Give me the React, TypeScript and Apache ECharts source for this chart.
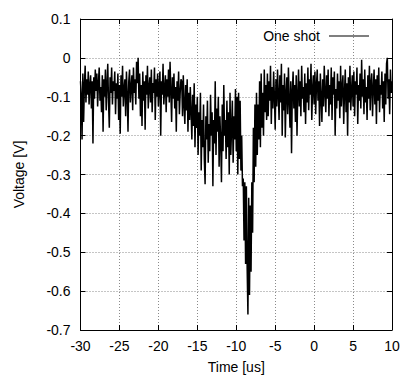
import React, { useEffect, useRef } from "react";
import * as echarts from "echarts";

// Oscilloscope trace, sampled every 0.1 us starting at -30 us. Values in millivolts.
const sampleStart = -30;
const sampleStep = 0.1;

// -30.0 .. -17.1 us : baseline noise
const baselineBefore = [
  -60, -100, -210, -40, -165, -70, -20, -115, -55, -95,
  -35, -120, -70, -45, -130, -60, -220, -50, -105, -30,
  -85, -40, -125, -65, -25, -110, -75, -140, -45, -190,
  -55, -100, -30, -135, -70, -15, -115, -180, -50, -90,
  -25, -120, -60, -85, -35, -145, -65, -105, -40, -160,
  -70, -195, -45, -100, -20, -125, -80, -55, -150, -35,
  -95, -190, -60, -30, -115, -75, -45, -135, -25, -90,
  -55, -120, -10, -65, 0, -105, -40, -150, -70, -175,
  -35, -110, -60, -185, -45, -95, -20, -130, -75, -50,
  -115, -30, -140, -65, -90, -25, -160, -55, -100, -40,
  -125, -70, -35, -200, -60, -95, -15, -120, -80, -45,
  -140, -55, -100, -30, -115, -10, -85, -165, -50, -105,
  -40, -130, -75, -190, -60, -110, -35, -145, -90, -55,
];

// -17.0 .. -9.6 us : pre-pulse dip
const dipValues = [
  -60, -150, -45, -120, -170, -70, -135, -55, -190, -90,
  -160, -75, -140, -210, -95, -175, -65, -230, -120, -180,
  -100, -250, -140, -200, -90, -290, -160, -230, -120, -260,
  -325, -150, -210, -110, -270, -170, -240, -95, -200, -140,
  -330, -160, -220, -60, -250, -130, -190, -100, -280, -150,
  -210, -320, -120, -240, -70, -200, -160, -260, -110, -230,
  -140, -300, -90, -250, -180, -110, -270, -150, -210, -80,
  -240, -100, -300, -90, -260,
];

// -9.5 .. -7.6 us : main pulse
const spikeValues = [
  -110, -290, -200, -330, -310, -470, -320, -530, -330, -540,
  -660, -360, -610, -380, -550, -320, -450, -180, -320, -120,
];

// -7.5 .. -6.1 us : recovery
const recoveryValues = [
  -280, -90, -250, -120, -210, -60, -230, -40, -180, -90,
  -200, -30, -140, -70, -160,
];

// -6.0 .. 10.0 us : baseline noise
const baselineAfter = [
  -40, -150, -60, -110, -20, -170, -75, -130, -35, -100,
  -185, -55, -125, -30, -95, -160, -45, -115, -15, -200,
  -70, -135, -40, -205, -90, -50, -145, -25, -110, -180,
  -60, -245, -85, -35, -130, -70, -165, -45, -200, -95,
  -30, -125, -60, -150, -20, -105, -75, -140, -40, -170,
  -65, -115, -25, -135, -55, -95, -15, -160, -80, -45,
  -120, -35, -145, -70, -30, -110, -60, -175, -40, -100,
  -165, -55, -125, -20, -90, -140, -45, -105, -30, -150,
  -70, -120, -25, -160, -50, -95, -35, -200, -80, -130,
  -40, -110, -60, -155, -20, -125, -75, -45, -170, -90,
  -30, -140, -65, -200, -50, -115, -20, -135, -85, -45,
  -125, -35, -150, -60, -95, -25, -170, -70, -110, -40,
  -130, -5, -100, -55, -145, -30, -115, -75, -160, -45,
  -105, -20, -135, -65, -40, -150, -80, -30, -120, -55,
  -170, -45, -110, -25, -140, -70, -95, -35, -130, -60,
  -165, -40, -120, -15, 0, -105, -55, -145, -30, -90,
  -60,
];

const xTicks = { min: -30, max: 10, interval: 5 };
const yTicks = { min: -0.7, max: 0.1, interval: 0.1 };
const seriesName = "One shot";
const xName = "Time [us]";
const yName = "Voltage [V]";

const FONT = "'Liberation Sans', Arial, Helvetica, sans-serif";

export default function App() {
  const ref = useRef<HTMLDivElement>(null);

  useEffect(() => {
    if (!ref.current) return;
    const chart = echarts.init(ref.current, undefined, { renderer: "svg" });
    const allMv = [
      ...baselineBefore,
      ...dipValues,
      ...spikeValues,
      ...recoveryValues,
      ...baselineAfter,
    ];
    const data = allMv.map((mv, i) => [
      Number((sampleStart + i * sampleStep).toFixed(2)),
      mv / 1000,
    ]);

    const gridLine = { lineStyle: { color: "#8a8a8a", width: 1, type: [1, 2] as any } };
    const frameLine = { show: true, onZero: false, lineStyle: { color: "#000", width: 1 } };
    const tick = { show: true, inside: true, length: 5, lineStyle: { color: "#000" } };
    const label = { color: "#000", fontSize: 14, fontFamily: FONT };

    chart.setOption({
      animation: false,
      backgroundColor: "#fff",
      grid: { left: 80.5, right: 13, top: 19, bottom: 49, containLabel: false },
      legend: {
        data: [seriesName],
        right: 31,
        top: 24,
        align: "right",
        icon: "rect",
        itemWidth: 40,
        itemHeight: 1,
        itemStyle: { color: "#000" },
        textStyle: { color: "#000", fontSize: 14, fontFamily: FONT, padding: [0, 4, 0, 0] },
      },
      xAxis: [
        {
          type: "value",
          ...xTicks,
          name: xName,
          nameLocation: "middle",
          nameGap: 30,
          nameTextStyle: { color: "#000", fontSize: 14, fontFamily: FONT },
          axisLine: frameLine,
          axisTick: tick,
          axisLabel: { ...label, margin: 9 },
          splitLine: { show: true, ...gridLine },
        },
        {
          type: "value",
          ...xTicks,
          position: "top",
          axisLine: frameLine,
          axisTick: tick,
          axisLabel: { show: false },
          splitLine: { show: false },
        },
      ],
      yAxis: [
        {
          type: "value",
          ...yTicks,
          name: yName,
          nameLocation: "middle",
          nameGap: 55,
          nameTextStyle: { color: "#000", fontSize: 14, fontFamily: FONT },
          axisLine: frameLine,
          axisTick: tick,
          axisLabel: {
            ...label,
            margin: 10,
            formatter: (v: number) => String(Number(v.toFixed(1))),
          },
          splitLine: { show: true, ...gridLine },
        },
        {
          type: "value",
          ...yTicks,
          position: "right",
          axisLine: frameLine,
          axisTick: tick,
          axisLabel: { show: false },
          splitLine: { show: false },
        },
      ],
      series: [
        {
          name: seriesName,
          type: "line",
          data,
          showSymbol: false,
          symbol: "none",
          lineStyle: { color: "#000", width: 1.5 },
          itemStyle: { color: "#000" },
          clip: true,
          z: 3,
        },
      ],
    });
    return () => chart.dispose();
  }, []);

  return (
    <div
      ref={ref}
      style={{ position: "absolute", left: 0, top: 0, width: 405, height: 379, background: "#fff" }}
    />
  );
}
